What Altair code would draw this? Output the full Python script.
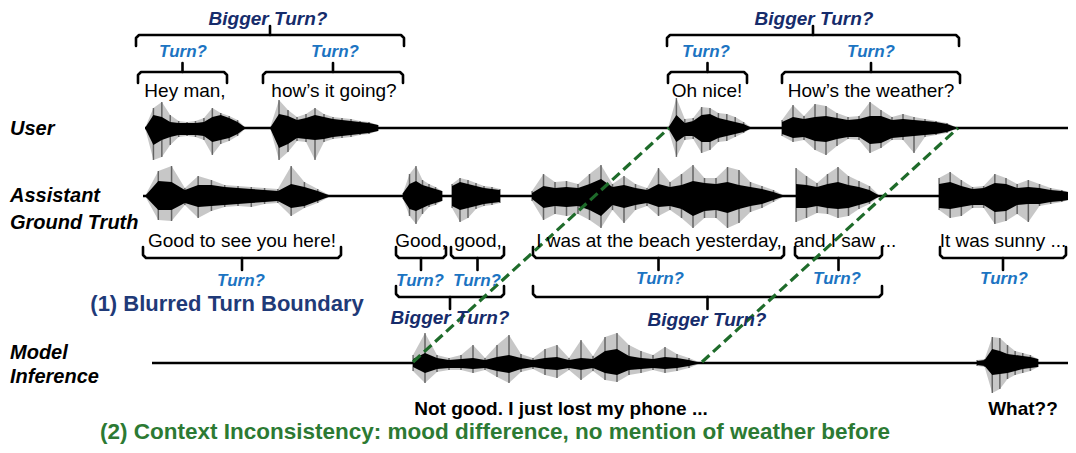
import altair as alt
import pandas as pd
import numpy as np

# ---------------- timeline tracks ----------------
track_y = [128, 196, 363]
track_start = [145, 143, 152]
track_end = [1076, 1076, 1076]

# ---------------- speech segments (track index, start, end) ----------------
seg_track = [0, 0, 0, 0, 1, 1, 1, 1, 1, 1, 2, 2]
seg_start = [145, 270, 668, 782, 145, 403, 452, 532, 796, 939, 413, 977]
seg_end = [246, 378, 752, 958, 331, 442, 500, 785, 880, 1073, 701, 1038]

# envelope samples (pixels above / below the baseline)
core_up = [
    [0, 13, 11, 6, 5, 5, 5, 6, 11, 13, 10, 6, 0],
    [0, 14, 12, 8, 10, 13, 11, 9, 8, 7, 6, 5, 3],
    [0, 13, 5, 7, 13, 14, 10, 8, 6, 4, 0],
    [6, 11, 9, 11, 12, 10, 8, 9, 12, 12, 8, 9, 8, 7, 6, 4, 0],
    [0, 15, 14, 6, 11, 11, 9, 8, 7, 6, 5, 12, 9, 5, 0],
    [3, 12, 15, 11, 9, 7, 5],
    [10, 14, 12, 10, 8, 7, 6],
    [3, 10, 8, 9, 8, 12, 17, 9, 11, 8, 6, 12, 9, 11, 15, 13, 12, 14, 11, 9, 7, 4, 0],
    [12, 11, 9, 12, 14, 11, 9, 6, 0],
    [12, 14, 10, 7, 8, 13, 12, 8, 9, 8, 6, 5, 3],
    [4, 10, 5, 3, 4, 5, 3, 6, 8, 5, 3, 5, 6, 3, 5, 4, 12, 14, 7, 5, 4, 6, 5, 3, 0],
    [2, 3, 14, 12, 9, 8, 7, 6, 4],
]
core_dn = [
    [0, 17, 12, 9, 7, 7, 7, 8, 14, 12, 10, 6, 0],
    [0, 20, 16, 10, 11, 12, 11, 9, 8, 7, 6, 5, 3],
    [0, 14, 8, 8, 14, 14, 10, 8, 6, 4, 0],
    [6, 10, 9, 13, 14, 11, 9, 9, 16, 15, 10, 9, 8, 7, 6, 4, 0],
    [0, 14, 14, 7, 11, 10, 9, 8, 7, 6, 5, 12, 10, 5, 0],
    [3, 13, 15, 12, 9, 7, 5],
    [10, 14, 12, 10, 8, 7, 6],
    [3, 12, 10, 11, 10, 14, 20, 9, 12, 9, 7, 11, 10, 13, 20, 15, 14, 17, 13, 10, 8, 4, 0],
    [12, 12, 10, 12, 13, 12, 9, 6, 0],
    [12, 13, 11, 9, 9, 16, 15, 9, 8, 8, 6, 5, 3],
    [4, 10, 6, 5, 5, 6, 5, 8, 10, 6, 4, 6, 7, 5, 7, 5, 10, 12, 7, 6, 5, 6, 5, 3, 0],
    [2, 3, 12, 11, 10, 8, 6, 5, 4],
]
peak_up = [
    [0, 20, 26, 13, 7, 6, 7, 10, 20, 15, 12, 8, 0],
    [0, 28, 18, 11, 14, 20, 14, 11, 10, 9, 7, 6, 3],
    [0, 30, 9, 10, 21, 20, 15, 14, 11, 6, 0],
    [8, 23, 12, 24, 22, 15, 11, 12, 26, 18, 11, 14, 11, 9, 7, 5, 0],
    [0, 25, 30, 8, 20, 16, 11, 10, 9, 8, 7, 30, 14, 7, 0],
    [3, 22, 30, 16, 12, 9, 5],
    [12, 18, 16, 13, 10, 9, 7],
    [5, 22, 14, 15, 12, 22, 31, 12, 20, 12, 8, 28, 14, 22, 31, 18, 18, 29, 26, 14, 10, 6, 0],
    [28, 20, 13, 22, 29, 20, 15, 10, 0],
    [18, 24, 16, 9, 10, 22, 18, 12, 16, 12, 8, 6, 3],
    [8, 30, 8, 5, 8, 18, 5, 18, 28, 9, 5, 14, 18, 5, 23, 7, 26, 30, 18, 12, 8, 16, 9, 5, 0],
    [3, 4, 26, 25, 18, 12, 10, 8, 4],
]
peak_dn = [
    [0, 32, 29, 17, 9, 8, 9, 12, 27, 16, 13, 8, 0],
    [0, 32, 24, 13, 14, 32, 14, 11, 10, 9, 7, 6, 3],
    [0, 29, 12, 11, 25, 22, 14, 13, 9, 5, 0],
    [8, 14, 12, 22, 27, 18, 11, 12, 25, 20, 12, 12, 25, 9, 7, 5, 0],
    [0, 24, 25, 9, 22, 15, 11, 10, 11, 8, 7, 20, 12, 7, 0],
    [3, 20, 28, 18, 11, 9, 5],
    [12, 26, 22, 13, 10, 9, 7],
    [5, 24, 18, 20, 18, 24, 32, 14, 27, 14, 10, 20, 14, 22, 32, 22, 22, 32, 27, 16, 12, 6, 0],
    [26, 22, 17, 18, 22, 20, 13, 8, 0],
    [14, 22, 20, 12, 12, 28, 25, 18, 26, 10, 8, 6, 3],
    [8, 20, 9, 7, 7, 10, 7, 14, 20, 9, 6, 12, 15, 7, 17, 8, 17, 19, 12, 10, 7, 10, 8, 5, 0],
    [3, 4, 30, 26, 16, 12, 10, 8, 4],
]

# ---------------- braces ----------------
brace_x1 = [136, 667, 138, 263, 668, 782, 143, 396, 451, 533, 795, 940, 396, 533]
brace_x2 = [404, 959, 227, 403, 747, 960, 341, 446, 504, 784, 882, 1066, 504, 882]
brace_y = [35, 35, 72, 72, 72, 72, 258, 258, 258, 258, 258, 258, 297, 297]
brace_dir = [1, 1, 1, 1, 1, 1, -1, -1, -1, -1, -1, -1, -1, -1]  # 1: ends down, tick up

# ---------------- dashed links ----------------
link_x1 = [413, 702]
link_y1 = [362, 362]
link_x2 = [669, 958]
link_y2 = [128, 128]

# ---------------- texts ----------------
row_labels = ["User", "Assistant", "Ground Truth", "Model", "Inference"]
row_label_y = [129, 196, 223, 353, 377]

utter_text = ["Hey man,", "how’s it going?", "Oh nice!", "How’s the weather?",
              "Good to see you here!", "Good,", "good,", "I was at the beach yesterday,",
              "and I saw ...", "It was sunny ..."]
utter_x = [185, 334, 707, 871, 242, 421, 478, 659, 845, 1003]
utter_y = [91, 91, 91, 91, 241, 241, 241, 241, 241, 241]

turn_x = [183, 335, 706, 871, 241, 420, 477, 660, 837, 1004]
turn_y = [52, 52, 52, 52, 281, 281, 281, 279, 279, 279]

bigger_x = [268, 814, 450, 707]
bigger_y = [19, 19, 318, 320]

model_text = ["Not good. I just lost my phone ...", "What??"]
model_x = [561, 1023]
model_y = [409, 409]

issue_text = ["(1) Blurred Turn Boundary",
              "(2) Context Inconsistency: mood difference, no mention of weather before"]
issue_x = [227, 495]
issue_y = [304, 432]
issue_color = ["#1f3a78", "#2c7a33"]
issue_size = [22, 22.5]

FONT = "Liberation Sans"
XS = alt.Scale(domain=[8, 1068], nice=False, zero=False)
YS = alt.Scale(domain=[8, 445], reverse=True, nice=False, zero=False)


def X(f):
    return alt.X(f, type="quantitative", scale=XS, axis=None)


def Y(f):
    return alt.Y(f, type="quantitative", scale=YS, axis=None)


# ---- build tables ----
rows = []
for i in range(len(seg_start)):
    base = track_y[seg_track[i]]
    n = len(core_up[i])
    xs = np.linspace(seg_start[i], seg_end[i], n)
    for k in range(n):
        rows.append(dict(seg=i, x=float(xs[k]),
                         ct=base - core_up[i][k], cb=base + core_dn[i][k],
                         pt=base - peak_up[i][k], pb=base + peak_dn[i][k]))
wave = pd.DataFrame(rows)

tracks = pd.DataFrame(dict(x=track_start, x2=track_end, y=track_y))

bp = []
for i in range(len(brace_x1)):
    x1, x2, y, d = brace_x1[i], brace_x2[i], brace_y[i], brace_dir[i]
    xm = (x1 + x2) / 2
    end = 11
    tick = 9 if d == 1 else 12
    pts = [(x1, y + d * end), (x1, y + d * 3), (x1 + 3, y), (x2 - 3, y), (x2, y + d * 3), (x2, y + d * end)]
    for k, (px, py) in enumerate(pts):
        bp.append(dict(piece=f"b{i}", k=k, x=px, y=py))
    bp.append(dict(piece=f"t{i}", k=0, x=xm, y=y))
    bp.append(dict(piece=f"t{i}", k=1, x=xm, y=y - d * tick))
braces = pd.DataFrame(bp)

links = pd.DataFrame(dict(x=link_x1, y=link_y1, x2=link_x2, y2=link_y2))

labels_df = pd.DataFrame(dict(x=[10] * len(row_labels), y=row_label_y, t=row_labels))
utter_df = pd.DataFrame(dict(x=utter_x, y=utter_y, t=utter_text))
turn_df = pd.DataFrame(dict(x=turn_x, y=turn_y, t=["Turn?"] * len(turn_x)))
bigger_df = pd.DataFrame(dict(x=bigger_x, y=bigger_y, t=["Bigger Turn?"] * len(bigger_x)))
model_df = pd.DataFrame(dict(x=model_x, y=model_y, t=model_text))
issue_df = pd.DataFrame(dict(x=issue_x, y=issue_y, t=issue_text, c=issue_color, s=issue_size))

# ---- layers ----
track_layer = alt.Chart(tracks).mark_rule(color="#000", strokeWidth=2.5).encode(
    x=X("x"), x2="x2", y=Y("y"))

peak_area = alt.Chart(wave).mark_area(color="#000", opacity=0.22, orient="vertical",
                                      interpolate="linear").encode(
    x=X("x"), y=Y("pt"), y2="pb", detail="seg:N")

peak_rules = alt.Chart(wave).mark_rule(color="#000", opacity=0.5, strokeWidth=1.5).encode(
    x=X("x"), y=Y("pt"), y2="pb")

core_layer = alt.Chart(wave).mark_area(color="#000", opacity=1, orient="vertical",
                                       interpolate="linear").encode(
    x=X("x"), y=Y("ct"), y2="cb", detail="seg:N")

brace_layer = alt.Chart(braces).mark_line(color="#000", strokeWidth=2.6, strokeCap="round",
                                          strokeJoin="round").encode(
    x=X("x"), y=Y("y"), detail="piece:N", order="k:Q")

link_layer = alt.Chart(links).mark_rule(color="#1e6b2a", strokeWidth=3.2, strokeDash=[10, 5]).encode(
    x=X("x"), y=Y("y"), x2="x2", y2="y2")

label_layer = alt.Chart(labels_df).mark_text(font=FONT, fontSize=20, fontWeight="bold",
                                             fontStyle="italic", align="left", baseline="middle",
                                             color="#000").encode(
    x=X("x"), y=Y("y"), text="t:N")

utter_layer = alt.Chart(utter_df).mark_text(font=FONT, fontSize=19, align="center",
                                            baseline="middle", color="#000").encode(
    x=X("x"), y=Y("y"), text="t:N")

turn_layer = alt.Chart(turn_df).mark_text(font=FONT, fontSize=17, fontWeight="bold",
                                          fontStyle="italic", align="center", baseline="middle",
                                          color="#1c74c2").encode(
    x=X("x"), y=Y("y"), text="t:N")

bigger_layer = alt.Chart(bigger_df).mark_text(font=FONT, fontSize=19, fontWeight="bold",
                                              fontStyle="italic", align="center", baseline="middle",
                                              color="#162c6b").encode(
    x=X("x"), y=Y("y"), text="t:N")

model_layer = alt.Chart(model_df).mark_text(font=FONT, fontSize=19, fontWeight="bold",
                                            align="center", baseline="middle", color="#000").encode(
    x=X("x"), y=Y("y"), text="t:N")

issue_layer = alt.Chart(issue_df).mark_text(font=FONT, fontWeight="bold",
                                            align="center", baseline="middle").encode(
    x=X("x"), y=Y("y"), text="t:N", color=alt.Color("c:N", scale=None),
    size=alt.Size("s:Q", scale=None))

chart = alt.layer(
    track_layer, peak_area, peak_rules, core_layer, brace_layer, link_layer,
    label_layer, utter_layer, turn_layer, bigger_layer, model_layer, issue_layer
).properties(
    width=1060, height=437, padding=0, autosize="none", background="white"
).configure_view(strokeWidth=0)

chart.save("out.html", embed_options={"renderer": "svg", "actions": False})
